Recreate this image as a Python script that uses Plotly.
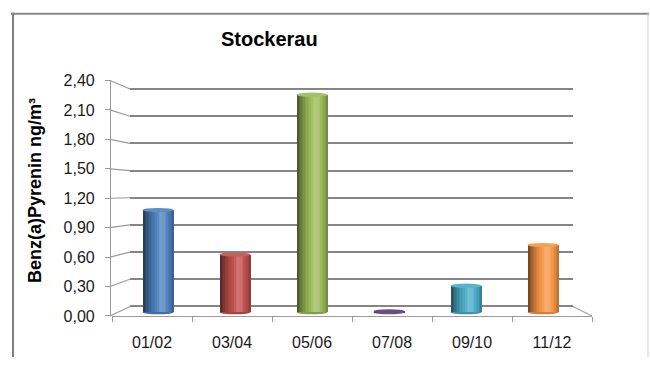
import plotly.graph_objects as go

# --- data -------------------------------------------------------------
periods = ["01/02", "03/04", "05/06", "07/08", "09/10", "11/12"]
bap_values = [1.08, 0.61, 2.30, 0.01, 0.28, 0.71]
bar_colors = ["#4F81BD", "#C0504D", "#9BBB59", "#8064A2", "#4BACC6", "#F79646"]
y_ticks = [0.0, 0.3, 0.6, 0.9, 1.2, 1.5, 1.8, 2.1, 2.4]

W, H = 650, 366
FONT = "Liberation Sans, Arial, sans-serif"


def px_x(p):
    return p / W


def px_y(p):
    return 1 - p / H


def hex_rgb(h):
    h = h.lstrip("#")
    return tuple(int(h[i:i + 2], 16) for i in (0, 2, 4))


def shade(hexc, f):
    r, g, b = hex_rgb(hexc)
    if f <= 1:
        r, g, b = r * f, g * f, b * f
    else:
        a = min(1.0, (f - 1) * 2.2)
        r, g, b = r + (255 - r) * a, g + (255 - g) * a, b + (255 - b) * a
    return "rgb(%d,%d,%d)" % (round(r), round(g), round(b))


# brightness across a cylinder, left edge -> right edge
profile = [(0.0, 0.45), (0.12, 0.66), (0.30, 0.88), (0.55, 1.10),
           (0.70, 1.08), (0.88, 0.90), (1.0, 0.72)]


def light_at(t):
    for (t0, f0), (t1, f1) in zip(profile[:-1], profile[1:]):
        if t0 <= t <= t1:
            return f0 + (f1 - f0) * (t - t0) / (t1 - t0)
    return profile[-1][1]


# --- geometry of the pseudo-3D box (pixels) ---------------------------
front_x0, front_x1 = 112, 592      # front edge of the floor / category axis
front_y0, front_y1 = 323, 76       # front value axis: 0 and 2.40
back_x0, back_x1 = 130, 573        # back wall
back_y0, back_y1 = 313, 85
axis_x = 110                       # front value axis line

# plane through the middle of the bars
mid_x0, mid_x1 = 119.5, 581.5
mid_zero, mid_scale = 319.0, 99.17
y3_range = [-0.06, 2.5]
y2_range = [-0.02, 2.42]


def mid_px(v):
    return mid_zero - mid_scale * v


def front_px(v):
    return front_y0 + (front_y1 - front_y0) * v / 2.4


def back_px(v):
    return back_y0 + (back_y1 - back_y0) * v / 2.4


fig = go.Figure()

# invisible traces so the front and back-wall axes get drawn
fig.add_trace(go.Scatter(x=periods, y=bap_values, mode="markers",
                         marker=dict(opacity=0), hoverinfo="skip",
                         showlegend=False, xaxis="x", yaxis="y"))
fig.add_trace(go.Scatter(x=periods, y=bap_values, mode="markers",
                         marker=dict(opacity=0), hoverinfo="skip",
                         showlegend=False, xaxis="x2", yaxis="y2"))

# cylinders built from narrow shaded strips
bar_w = 0.40
n_strips = 20
sw = bar_w / n_strips
for i in range(n_strips):
    t = (i + 0.5) / n_strips
    off = -bar_w / 2 + i * sw
    width = min(sw * 1.6, bar_w / 2 - off)
    fig.add_trace(go.Bar(
        x=periods, y=bap_values, xaxis="x3", yaxis="y3",
        offset=off, width=width,
        marker=dict(color=[shade(c, light_at(t)) for c in bar_colors],
                    line=dict(width=0)),
        hoverinfo="skip", showlegend=False,
    ))

shapes = []
cap_h = 0.022
for i, (v, c) in enumerate(zip(bap_values, bar_colors)):
    # rounded bottom of each cylinder
    shapes.append(dict(type="circle", xref="x3", yref="y3",
                       x0=i - bar_w / 2, x1=i + bar_w / 2,
                       y0=-cap_h, y1=cap_h, layer="below",
                       fillcolor=shade(c, 0.85), line=dict(width=0)))
    # top cap
    shapes.append(dict(type="circle", xref="x3", yref="y3",
                       x0=i - bar_w / 2, x1=i + bar_w / 2,
                       y0=v - cap_h, y1=v + cap_h, layer="above",
                       fillcolor=shade(c, 1.04 if v > 0.05 else 0.8),
                       line=dict(width=0)))

# connectors from the front value axis to the back wall
for v in y_ticks:
    shapes.append(dict(type="line", xref="paper", yref="paper",
                       x0=px_x(axis_x), y0=px_y(front_px(v)),
                       x1=px_x(back_x0), y1=px_y(back_px(v)),
                       line=dict(color="#9a9a9a", width=1.2)))
# right edge of the floor
shapes.append(dict(type="line", xref="paper", yref="paper",
                   x0=px_x(back_x1), y0=px_y(back_y0),
                   x1=px_x(front_x1), y1=px_y(front_y0),
                   line=dict(color="#a0a0a0", width=1.2)))

# chart frame
shapes.append(dict(type="line", xref="paper", yref="paper",
                   x0=px_x(11), x1=px_x(649), y0=px_y(6), y1=px_y(6),
                   line=dict(color="#8a8a8a", width=2)))
shapes.append(dict(type="line", xref="paper", yref="paper",
                   x0=px_x(13), x1=px_x(13), y0=px_y(5), y1=0,
                   line=dict(color="#808080", width=2)))
shapes.append(dict(type="line", xref="paper", yref="paper",
                   x0=px_x(648), x1=px_x(648), y0=px_y(6), y1=0,
                   line=dict(color="#cfcfcf", width=1)))

axis_font = dict(family=FONT, size=16, color="#1a1a1a")

fig.update_layout(
    width=W, height=H,
    margin=dict(l=0, r=0, t=0, b=0),
    paper_bgcolor="white", plot_bgcolor="rgba(0,0,0,0)",
    separators=",.",
    barmode="overlay",
    bargap=0,
    shapes=shapes,
    xaxis=dict(
        domain=[px_x(front_x0), px_x(front_x1)], anchor="y",
        type="category", categoryorder="array", categoryarray=periods,
        range=[-0.5, 5.5], showgrid=False, zeroline=False,
        showline=True, linecolor="#9a9a9a", linewidth=1.2,
        ticks="outside", tickson="boundaries", ticklen=5,
        tickcolor="#9a9a9a", tickfont=axis_font, ticklabelstandoff=12,
    ),
    yaxis=dict(
        domain=[px_y(front_y0), px_y(front_y1)], anchor="free",
        position=px_x(axis_x), range=[0, 2.4], tickvals=y_ticks,
        tickformat=".2f", showgrid=False, zeroline=False,
        showline=True, linecolor="#9a9a9a", linewidth=1.2,
        ticks="outside", ticklen=5, tickcolor="#9a9a9a",
        tickfont=axis_font, ticklabelstandoff=7,
    ),
    xaxis2=dict(
        domain=[px_x(back_x0), px_x(back_x1)], anchor="y2",
        type="category", categoryorder="array", categoryarray=periods,
        range=[-0.5, 5.5], visible=False,
    ),
    yaxis2=dict(
        domain=[px_y(back_px(y2_range[0])), px_y(back_px(y2_range[1]))],
        anchor="x2", range=y2_range, tickvals=y_ticks, showticklabels=False,
        showgrid=True, gridcolor="#858585", gridwidth=1.7,
        zeroline=False, showline=False, ticks="",
    ),
    xaxis3=dict(
        domain=[px_x(mid_x0), px_x(mid_x1)], anchor="y3",
        type="category", categoryorder="array", categoryarray=periods,
        range=[-0.5, 5.5], visible=False,
    ),
    yaxis3=dict(
        domain=[px_y(mid_px(y3_range[0])), px_y(mid_px(y3_range[1]))],
        anchor="x3", range=y3_range, visible=False,
    ),
    annotations=[
        dict(text="<b>Stockerau</b>", x=px_x(269), y=px_y(33),
             xref="paper", yref="paper", xanchor="center", yanchor="middle",
             showarrow=False, font=dict(family=FONT, size=20, color="black")),
        dict(text="<b>Benz(a)Pyrenin ng/m³</b>", x=px_x(35), y=px_y(192),
             xref="paper", yref="paper", xanchor="center", yanchor="middle",
             textangle=-90, showarrow=False,
             font=dict(family=FONT, size=18, color="black")),
    ],
)

fig.write_html("out.html", config=dict(displayModeBar=False))
